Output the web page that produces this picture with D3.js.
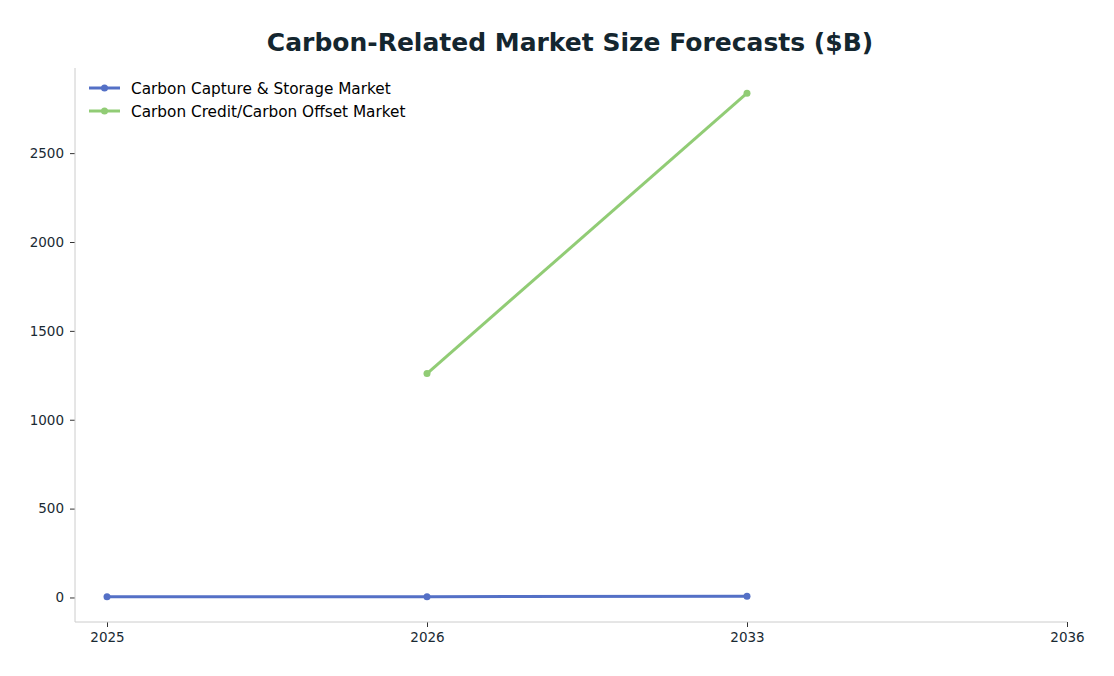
<!DOCTYPE html>
<html>
<head>
<meta charset="utf-8">
<script src="https://cdn.jsdelivr.net/npm/d3@7"></script>
<style>
  body { margin: 0; background: #fff; }
  svg text { font-family: "DejaVu Sans", sans-serif; }
</style>
</head>
<body>
<div id="chart"></div>
<script>
// Data
var years = ['2025', '2026', '2033', '2036'];
var ccsYears = ['2025', '2026', '2033'];
var ccsValues = [3.5, 4.3, 6.5];
var creditYears = ['2026', '2033'];
var creditValues = [1260, 2837];
var seriesNames = ['Carbon Capture & Storage Market', 'Carbon Credit/Carbon Offset Market'];
var yTicks = [0, 500, 1000, 1500, 2000, 2500];

var width = 1114,
  height = 676;

var svg = d3.select('#chart')
  .append('svg')
  .attr('width', width)
  .attr('height', height);

var plot = { left: 75, right: 1067, top: 68, bottom: 622 };

// Scales
var xScale = d3.scalePoint()
  .domain(years)
  .range([107, 1067]);

var yScale = d3.scaleLinear()
  .domain([-138, 2979])
  .range([plot.bottom, plot.top]);

// Title
svg.append('text')
  .attr('x', 570)
  .attr('y', 50.5)
  .attr('text-anchor', 'middle')
  .attr('font-size', 25)
  .attr('font-weight', 'bold')
  .attr('fill', '#14262f')
  .text('Carbon-Related Market Size Forecasts ($B)');

// Axes
var yAxis = svg.append('g')
  .attr('transform', 'translate(' + plot.left + ',0)')
  .call(d3.axisLeft(yScale).tickValues(yTicks).tickSize(5).tickPadding(6).tickFormat(d3.format('d')));

var xAxis = svg.append('g')
  .attr('transform', 'translate(0,' + plot.bottom + ')')
  .call(d3.axisBottom(xScale).tickSize(5).tickPadding(5));

[yAxis, xAxis].forEach(function(a) {
  a.select('.domain').remove();
  a.selectAll('.tick line').attr('stroke', '#333');
  a.selectAll('.tick text')
    .attr('fill', '#1a2a33')
    .attr('font-size', 13.5)
    .attr('font-family', '"DejaVu Sans", sans-serif');
});

// spines
svg.append('line')
  .attr('x1', plot.left).attr('x2', plot.left)
  .attr('y1', plot.top).attr('y2', plot.bottom)
  .attr('stroke', '#cccccc');
svg.append('line')
  .attr('x1', plot.left).attr('x2', plot.right)
  .attr('y1', plot.bottom).attr('y2', plot.bottom)
  .attr('stroke', '#cccccc');

// Series
var series = [
  { name: seriesNames[0], color: '#5470c6', pts: ccsYears.map(function(y, i) { return { x: y, v: ccsValues[i] }; }) },
  { name: seriesNames[1], color: '#91cc75', pts: creditYears.map(function(y, i) { return { x: y, v: creditValues[i] }; }) }
];

var line = d3.line()
  .x(function(d) { return xScale(d.x); })
  .y(function(d) { return yScale(d.v); });

series.forEach(function(s) {
  svg.append('path')
    .datum(s.pts)
    .attr('fill', 'none')
    .attr('stroke', s.color)
    .attr('stroke-width', 3)
    .attr('d', line);

  svg.selectAll(null)
    .data(s.pts)
    .enter()
    .append('circle')
    .attr('cx', function(d) { return xScale(d.x); })
    .attr('cy', function(d) { return yScale(d.v); })
    .attr('r', 3.5)
    .attr('fill', s.color);
});

// Legend
var legend = svg.append('g');
series.forEach(function(s, i) {
  var y = 88 + i * 23;
  legend.append('line')
    .attr('x1', 89).attr('x2', 120)
    .attr('y1', y).attr('y2', y)
    .attr('stroke', s.color)
    .attr('stroke-width', 3);
  legend.append('circle')
    .attr('cx', 104.5).attr('cy', y)
    .attr('r', 3.5)
    .attr('fill', s.color);
  legend.append('text')
    .attr('x', 131)
    .attr('y', y + 5.5)
    .attr('font-size', 15.3)
    .attr('fill', '#000')
    .text(s.name);
});
</script>
</body>
</html>
